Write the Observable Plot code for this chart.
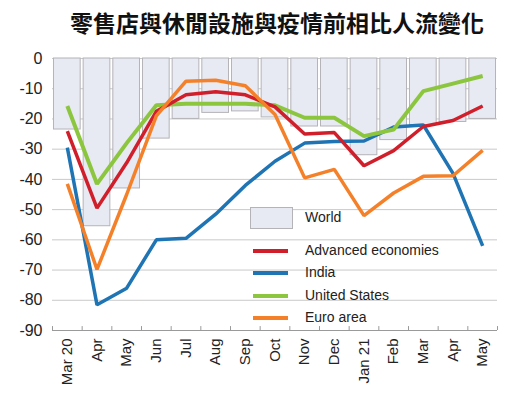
<!DOCTYPE html>
<html><head><meta charset="utf-8">
<script src="https://cdn.jsdelivr.net/npm/d3@7"></script>
<script src="https://cdn.jsdelivr.net/npm/@observablehq/plot@0.6"></script>
<style>
html,body{margin:0;padding:0;background:#fff;}
#wrap{position:relative;width:524px;height:394px;overflow:hidden;}
#title{height:44px;text-align:center;font-family:"Noto Sans CJK TC","Noto Sans CJK SC",sans-serif;font-weight:bold;font-size:23px;line-height:44px;color:#111;padding-left:30px;box-sizing:border-box;}
#legend{position:absolute;left:0;top:0;font-family:"Liberation Sans",Arial,sans-serif;font-size:14px;color:#222;}
.lg-item{position:absolute;white-space:nowrap;}
</style>
</head><body>
<div id="wrap">
<div id="title">零售店與休閒設施與疫情前相比人流變化</div>
<div id="chart"></div>
<div id="legend"></div>
</div>
<script>
const months = ["Mar 20","Apr","May","Jun","Jul","Aug","Sep","Oct","Nov","Dec","Jan 21","Feb","Mar","Apr","May"];
const world    = [-23.5,-55.5,-43,-26.5,-20,-18,-17.5,-19.5,-22.5,-22.5,-32,-27,-22,-21,-20];
const advanced = [-24,-49.5,-34.5,-17.5,-12,-11,-12,-16,-25,-24.5,-35.5,-30.5,-22.5,-20.5,-15.7];
const india    = [-29.5,-81.5,-76,-60,-59.5,-51.5,-42,-34,-28,-27.5,-27.3,-22.7,-22,-38,-62];
const us       = [-15.7,-41.5,-28,-15.5,-15,-15,-15,-15.5,-19.6,-19.6,-25.7,-23.5,-10.8,-8.3,-5.8];
const euro     = [-41.5,-69.8,-45,-19,-7.5,-7.2,-9,-18.5,-39.5,-36.7,-52,-44.5,-39,-38.8,-30.4];
const yTicks = [0,-10,-20,-30,-40,-50,-60,-70,-80,-90];

const seriesNames = ["Advanced economies","India","United States","Euro area"];
const seriesVals = [advanced, india, us, euro];
const colors = {"Advanced economies":"#d01f2a","India":"#1f74b4","United States":"#8cc63f","Euro area":"#f4812a"};
const drawOrder = ["India","United States","Advanced economies","Euro area"];

const idx = months.map((m,i)=>i);
const worldData = idx.map(i=>({i, v: world[i]}));
const lineData = seriesNames.flatMap((s,k)=>idx.map(i=>({s, i, v: seriesVals[k][i]})));

const chart = Plot.plot({
  width: 524, height: 350,
  marginTop: 14, marginBottom: 64, marginLeft: 52, marginRight: 27,
  x: {domain: [-0.5, months.length-0.5], label: null},
  y: {domain: [-90, 0], label: null},
  style: {fontFamily: "'Liberation Sans', Arial, sans-serif", background: "white", color:"#222"},
  marks: [
    Plot.gridY(yTicks, {stroke: "#c9c9c9", strokeOpacity: 1}),
    Plot.rectY(worldData, {x1: d=>d.i-0.45, x2: d=>d.i+0.45, y1: 0, y2: "v", fill: "#e7e9f3", stroke: "#b4b4b8", strokeWidth: 1}),
    Plot.ruleY([-90], {stroke: "#9a9a9a", strokeWidth: 1.2}),
    Plot.ruleX(d3.range(months.length+1).map(i=>i-0.5), {y1: -90, y2: -88.7, stroke: "#9a9a9a"}),
    Plot.axisY({ticks: yTicks, tickSize: 0, tickPadding: 10, fontSize: 16, tickFormat: d=>String(d), label: null}),
    Plot.axisX({ticks: idx, tickFormat: i=>months[i], tickRotate: -90, tickSize: 0, tickPadding: 8, fontSize: 15, label: null}),
    ...drawOrder.map(s => Plot.line(lineData.filter(d=>d.s===s), {x: "i", y: "v", stroke: colors[s], strokeWidth: s==="United States" ? 4 : 3.5, strokeLinejoin: "miter", strokeLinecap: "butt"}))
  ]
});
document.getElementById("chart").appendChild(chart);

// legend overlay
const lg = document.getElementById("legend");
const box = document.createElement("div");
box.style.cssText = "position:absolute;left:250px;top:207px;width:41px;height:20px;background:#e7e9f3;border:1px solid #b4b4b8;";
lg.appendChild(box);
const wt = document.createElement("div");
wt.className = "lg-item"; wt.textContent = "World";
wt.style.cssText += "left:305px;top:209px;";
lg.appendChild(wt);
const rowsY = [251, 273, 296, 318];
seriesNames.forEach((s,k)=>{
  const sw = document.createElement("div");
  sw.style.cssText = `position:absolute;left:253px;top:${rowsY[k]-2}px;width:35px;height:4px;background:${colors[s]};`;
  lg.appendChild(sw);
  const t = document.createElement("div");
  t.className = "lg-item"; t.textContent = s;
  t.style.cssText += `left:305px;top:${rowsY[k]-9}px;`;
  lg.appendChild(t);
});
</script>
</body></html>
